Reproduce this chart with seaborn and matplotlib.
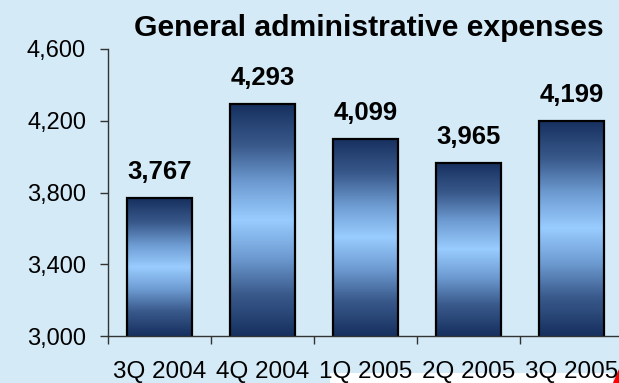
import numpy as np
import pandas as pd
import matplotlib
matplotlib.use("Agg")
import matplotlib.pyplot as plt
from matplotlib.colors import LinearSegmentedColormap
from matplotlib.patches import Rectangle, Polygon
from matplotlib.ticker import FixedLocator, FuncFormatter
import seaborn as sns

# Quarterly general administrative expenses
quarters = ["3Q 2004", "4Q 2004", "1Q 2005", "2Q 2005", "3Q 2005"]
expenses = [3767, 4293, 4099, 3965, 4199]
y_ticks = [3000, 3400, 3800, 4200, 4600]

BG = "#D4EAF7"
W, H = 619, 383

sns.set_theme(style="white")
plt.rcParams["font.family"] = ["Liberation Sans", "DejaVu Sans"]

fig = plt.figure(figsize=(W / 100, H / 100), dpi=100, facecolor=BG)
ax = fig.add_axes([108 / W, 47 / H, 515 / W, 287 / H])
ax.set_facecolor(BG)

df = pd.DataFrame({"quarter": quarters, "expenses": expenses})
sns.barplot(data=df, x="quarter", y="expenses", ax=ax, width=0.64,
            color="#99CCFF", saturation=1, edgecolor="black", linewidth=1.6)

ymin, ymax = y_ticks[0], y_ticks[-1]
ax.set_xlim(-0.5, len(quarters) - 0.5)
ax.set_ylim(ymin, ymax)

# Vertical dark-light-dark gradient fill for each bar
shade = LinearSegmentedColormap.from_list("bar_shade", [
    (0.00, "#16305F"), (0.18, "#3A5A8C"), (0.34, "#6E9CD2"),
    (0.50, "#99CCFF"), (0.66, "#6E9CD2"), (0.82, "#3A5A8C"),
    (1.00, "#16305F")])
grad = np.linspace(0, 1, 256).reshape(-1, 1)
for bar, val in zip(ax.patches, expenses):
    x0 = bar.get_x()
    x1 = x0 + bar.get_width()
    bar.set_facecolor("none")
    img = ax.imshow(grad, cmap=shade, aspect="auto", origin="upper",
                    extent=[x0, x1, ymin, val], zorder=bar.get_zorder() - 0.1,
                    interpolation="bilinear")
    img.set_clip_path(bar)
    ax.annotate(f"{val:,}", (bar.get_x() + bar.get_width() / 2, val),
                xytext=(0, 13.8), textcoords="offset points",
                ha="center", va="baseline", fontsize=18.5, fontweight="bold",
                color="black")

ax.set_xlim(-0.5, len(quarters) - 0.5)
ax.set_ylim(ymin, ymax)

# Axes, ticks and labels
for side in ("top", "right"):
    ax.spines[side].set_visible(False)
for side in ("left", "bottom"):
    ax.spines[side].set_color("#333333")
    ax.spines[side].set_linewidth(1.0)

ax.set_yticks(y_ticks)
ax.yaxis.set_major_formatter(FuncFormatter(lambda v, p: f"{int(v):,}"))
ax.tick_params(axis="y", which="major", direction="out", length=5.8, width=1.0,
               color="#333333", pad=10, labelsize=17, labelcolor="black", left=True)

ax.xaxis.set_minor_locator(FixedLocator(np.arange(-0.5, len(quarters), 1.0)))
ax.tick_params(axis="x", which="minor", direction="out", length=5.8, width=1.0,
               color="#333333", bottom=True)
ax.tick_params(axis="x", which="major", length=0, pad=18, labelsize=17.5,
               labelcolor="black")
ax.set_xlabel("")
ax.set_ylabel("")

fig.text(369 / W, (H - 36) / H, "General administrative expenses",
         ha="center", va="baseline", fontsize=21.7, fontweight="bold", color="black")

# Lower strip of the slide
fig.patches.append(Rectangle((330 / W, 0), (613 - 330) / W, 10 / H,
                             transform=fig.transFigure, facecolor="white",
                             edgecolor="none", zorder=-1))
fig.patches.append(Polygon([(613 / W, 0), (1, 0), (1, 14 / H)],
                           closed=True, transform=fig.transFigure,
                           facecolor="#FF0000", edgecolor="none", zorder=-1))

fig.savefig("out.png", dpi=100, facecolor=BG)
